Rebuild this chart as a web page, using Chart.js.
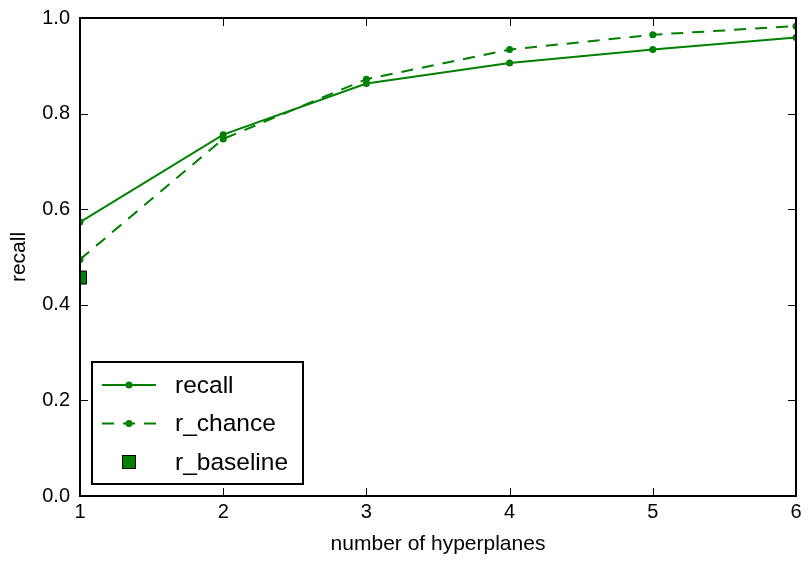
<!DOCTYPE html>
<html>
    <head>
        <meta charset="utf-8">
        <script src="https://cdn.jsdelivr.net/npm/chart.js@4.4.1/dist/chart.umd.min.js"></script>
        <style>
            html, body { margin: 0; padding: 0; background: #fff; }
            .chart-container { position: relative; width: 808px; height: 562px; }
        </style>
    </head>
    <body>
        <div class="chart-container">
            <canvas id="myChart"></canvas>
        </div>

        <script>
            // number of hyperplanes on x, recall values on y
            const HYPERPLANES = [1, 2, 3, 4, 5, 6];
            const RECALL = [0.573, 0.756, 0.863, 0.906, 0.934, 0.959];
            const R_CHANCE = [0.495, 0.747, 0.872, 0.934, 0.965, 0.983];
            const BASELINE_X = [1];
            const R_BASELINE = [0.457];
            const SERIES_NAMES = ['recall', 'r_chance', 'r_baseline'];
            const X_TICKS = [1, 2, 3, 4, 5, 6];
            const Y_TICKS = [0, 0.2, 0.4, 0.6, 0.8, 1.0];

            const GREEN = '#008000';
            const FONT_FAMILY = '"Liberation Sans", Arial, sans-serif';

            const toPoints = (xs, ys) => xs.map((x, i) => ({ x: x, y: ys[i] }));

            // frame, inward tick marks and the boxed legend (old matplotlib look)
            const framePlugin = {
                id: 'framePlugin',
                afterDatasetsDraw(chart) {
                    const ctx = chart.ctx;
                    const { left, right, top, bottom } = chart.chartArea;
                    const xs = chart.scales.x;
                    const ys = chart.scales.y;

                    ctx.save();
                    ctx.strokeStyle = '#000';
                    ctx.lineWidth = 1;
                    ctx.beginPath();
                    X_TICKS.forEach((v) => {
                        const px = Math.round(xs.getPixelForValue(v)) + 0.5;
                        ctx.moveTo(px, bottom);
                        ctx.lineTo(px, bottom - 8);
                        ctx.moveTo(px, top);
                        ctx.lineTo(px, top + 8);
                    });
                    Y_TICKS.forEach((v) => {
                        const py = Math.round(ys.getPixelForValue(v)) + 0.5;
                        ctx.moveTo(left, py);
                        ctx.lineTo(left + 8, py);
                        ctx.moveTo(right, py);
                        ctx.lineTo(right - 8, py);
                    });
                    ctx.stroke();

                    ctx.lineWidth = 2;
                    ctx.strokeRect(left, top, right - left, bottom - top);

                    // legend box
                    const bx = left + 12;
                    const by = bottom - 134;
                    const bw = 211;
                    const bh = 122;
                    ctx.fillStyle = '#fff';
                    ctx.fillRect(bx, by, bw, bh);
                    ctx.strokeRect(bx, by, bw, bh);

                    ctx.font = '24.5px ' + FONT_FAMILY;
                    ctx.textBaseline = 'middle';
                    ctx.textAlign = 'left';
                    chart.data.datasets.forEach((ds, i) => {
                        const cy = by + 23 + i * 38.5;
                        const x0 = bx + 10;
                        const x1 = bx + 64;
                        const cx = (x0 + x1) / 2;
                        if (ds.showLine !== false) {
                            ctx.strokeStyle = ds.borderColor;
                            ctx.lineWidth = ds.borderWidth;
                            ctx.setLineDash(ds.borderDash || []);
                            ctx.beginPath();
                            ctx.moveTo(x0, cy);
                            ctx.lineTo(x1, cy);
                            ctx.stroke();
                            ctx.setLineDash([]);
                            ctx.fillStyle = ds.pointBackgroundColor;
                            ctx.beginPath();
                            ctx.arc(cx, cy, ds.pointRadius, 0, Math.PI * 2);
                            ctx.fill();
                        } else {
                            ctx.fillStyle = ds.pointBackgroundColor;
                            ctx.strokeStyle = ds.pointBorderColor;
                            ctx.lineWidth = ds.pointBorderWidth;
                            ctx.fillRect(cx - 6.5, cy - 6.5, 13, 13);
                            ctx.strokeRect(cx - 6.5, cy - 6.5, 13, 13);
                        }
                        ctx.fillStyle = '#000';
                        ctx.fillText(ds.label, bx + 83, cy + 1);
                    });
                    ctx.restore();
                }
            };

            const CTX = document.getElementById('myChart').getContext('2d');
            const chart = new Chart(CTX, {
                type: 'line',
                data: {
                    datasets: [
                        {
                            label: SERIES_NAMES[0],
                            data: toPoints(HYPERPLANES, RECALL),
                            borderColor: GREEN,
                            borderWidth: 2,
                            pointRadius: 3.5,
                            pointBackgroundColor: GREEN,
                            pointBorderColor: GREEN,
                            pointBorderWidth: 0,
                            clip: 0,
                        },
                        {
                            label: SERIES_NAMES[1],
                            data: toPoints(HYPERPLANES, R_CHANCE),
                            borderColor: GREEN,
                            borderWidth: 2,
                            borderDash: [12, 9],
                            pointRadius: 3.5,
                            pointBackgroundColor: GREEN,
                            pointBorderColor: GREEN,
                            pointBorderWidth: 0,
                            clip: 0,
                        },
                        {
                            label: SERIES_NAMES[2],
                            data: toPoints(BASELINE_X, R_BASELINE),
                            showLine: false,
                            pointStyle: 'rect',
                            pointRadius: 9.2,
                            pointBackgroundColor: GREEN,
                            pointBorderColor: '#000',
                            pointBorderWidth: 1,
                            borderColor: '#000',
                            clip: 0,
                        },
                    ],
                },
                options: {
                    responsive: true,
                    maintainAspectRatio: false,
                    animation: false,
                    layout: { padding: { top: 18, right: 12, left: 0, bottom: 0 } },
                    plugins: {
                        legend: { display: false },
                        tooltip: { enabled: false },
                    },
                    scales: {
                        x: {
                            type: 'linear',
                            min: X_TICKS[0],
                            max: X_TICKS[X_TICKS.length - 1],
                            grid: { display: false, drawTicks: false },
                            border: { display: false },
                            afterBuildTicks: (scale) => { scale.ticks = X_TICKS.map((v) => ({ value: v })); },
                            afterFit: (scale) => {
                                scale.height = 66;
                                scale.paddingLeft = 0;
                                scale.paddingRight = 0;
                            },
                            ticks: {
                                padding: 4,
                                color: '#000',
                                font: { family: FONT_FAMILY, size: 20 },
                                callback: (v) => String(v),
                            },
                            title: {
                                display: true,
                                text: 'number of hyperplanes',
                                color: '#000',
                                font: { family: FONT_FAMILY, size: 21 },
                                padding: { top: 0, bottom: 5 },
                            },
                        },
                        y: {
                            min: Y_TICKS[0],
                            max: Y_TICKS[Y_TICKS.length - 1],
                            grid: { display: false, drawTicks: false },
                            border: { display: false },
                            afterBuildTicks: (scale) => { scale.ticks = Y_TICKS.map((v) => ({ value: v })); },
                            afterFit: (scale) => {
                                scale.width = 80;
                                scale.paddingTop = 0;
                                scale.paddingBottom = 0;
                            },
                            ticks: {
                                padding: 10,
                                color: '#000',
                                font: { family: FONT_FAMILY, size: 20 },
                                callback: (v) => v.toFixed(1),
                            },
                            title: {
                                display: true,
                                text: 'recall',
                                color: '#000',
                                font: { family: FONT_FAMILY, size: 21 },
                                padding: { top: 7, bottom: 0 },
                            },
                        },
                    },
                },
                plugins: [framePlugin],
            });
        </script>
    </body>
</html>
